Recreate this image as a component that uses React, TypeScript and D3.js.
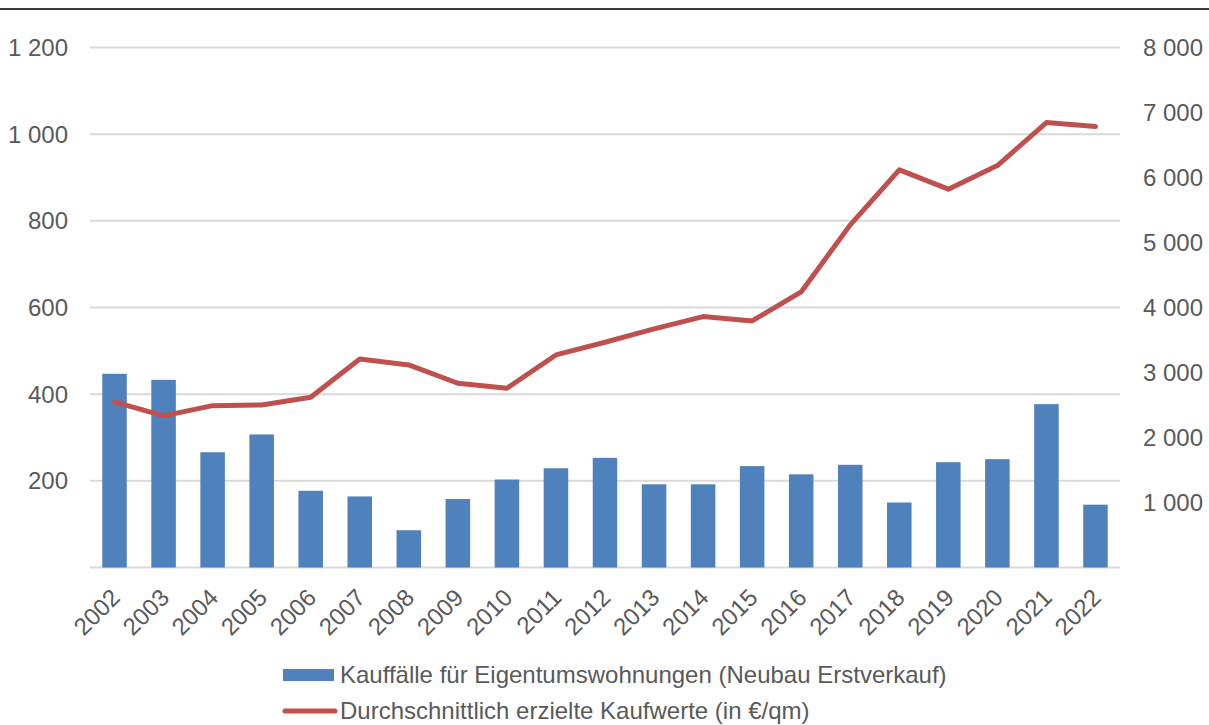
import React from "react";
import * as d3 from "d3";

const years = ["2002","2003","2004","2005","2006","2007","2008","2009","2010","2011","2012","2013","2014","2015","2016","2017","2018","2019","2020","2021","2022"];
const kauffaelle = [447, 433, 266, 307, 177, 164, 86, 158, 203, 229, 253, 192, 192, 234, 215, 237, 150, 243, 250, 377, 145];
const kaufwerte = [2547, 2332, 2490, 2500, 2619, 3209, 3116, 2835, 2758, 3270, 3465, 3670, 3860, 3793, 4240, 5271, 6117, 5820, 6183, 6845, 6783];
const leftTicks = [0, 200, 400, 600, 800, 1000, 1200];
const rightTicks = [1000, 2000, 3000, 4000, 5000, 6000, 7000, 8000];
const legendLabels = [
  "Kauffälle für Eigentumswohnungen (Neubau Erstverkauf)",
  "Durchschnittlich erzielte Kaufwerte (in €/qm)",
];

const W = 1209;
const H = 725;
const FONT = "'Liberation Sans', Arial, sans-serif";
const TEXT = "#595959";
const BAR = "#4F81BD";
const LINE = "#C0504D";
const FS = 24;

const locale = d3.formatLocale({ decimal: ",", thousands: " ", grouping: [3], currency: ["", "€"] });
const fmt = locale.format(",d");

export default function App() {
  const x = d3.scaleBand().domain(years).range([90, 1120]).paddingInner(0.5).paddingOuter(0.25);
  const yL = d3.scaleLinear().domain([0, 1200]).range([567.5, 47.5]);
  const yR = d3.scaleLinear().domain([0, 8000]).range([567.5, 47.5]);
  const cx = (y: string) => (x(y) as number) + x.bandwidth() / 2;
  const line = d3.line<number>().x((_, i) => cx(years[i])).y((d) => yR(d));

  return (
    <svg width={W} height={H} style={{ position: "absolute", left: 0, top: 0, background: "#fff" }} fontFamily={FONT}>
      <rect x={0} y={0} width={W} height={H} fill="#fff" />
      <line x1={0} x2={W} y1={9} y2={9} stroke="#3a3a3a" strokeWidth={2} />
      {leftTicks.map((t) => (
        <line key={"g" + t} x1={90} x2={1120} y1={yL(t)} y2={yL(t)} stroke="#D9D9D9" strokeWidth={2} />
      ))}
      {leftTicks.filter((t) => t > 0).map((t) => (
        <text key={"l" + t} x={68} y={yL(t)} dy="0.35em" textAnchor="end" fontSize={FS} fill={TEXT}>
          {fmt(t)}
        </text>
      ))}
      {rightTicks.map((t) => (
        <text key={"r" + t} x={1143} y={yR(t)} dy="0.35em" textAnchor="start" fontSize={FS} fill={TEXT}>
          {fmt(t)}
        </text>
      ))}
      {kauffaelle.map((v, i) => (
        <rect key={"b" + i} x={x(years[i])} y={yL(v)} width={x.bandwidth()} height={yL(0) - yL(v)} fill={BAR} />
      ))}
      <path d={line(kaufwerte) || ""} fill="none" stroke={LINE} strokeWidth={5} strokeLinejoin="round" strokeLinecap="round" />
      {years.map((y) => (
        <text key={"x" + y} transform={`translate(${cx(y) + 7},599) rotate(-45)`} textAnchor="end" fontSize={FS} fill={TEXT}>
          {y}
        </text>
      ))}
      <rect x={283} y={669} width={51} height={12} fill={BAR} />
      <text x={340} y={675} dy="0.35em" fontSize={FS} fill={TEXT}>{legendLabels[0]}</text>
      <line x1={285} x2={335} y1={711} y2={711} stroke={LINE} strokeWidth={5} strokeLinecap="round" />
      <text x={340} y={711} dy="0.35em" fontSize={FS} fill={TEXT}>{legendLabels[1]}</text>
    </svg>
  );
}
